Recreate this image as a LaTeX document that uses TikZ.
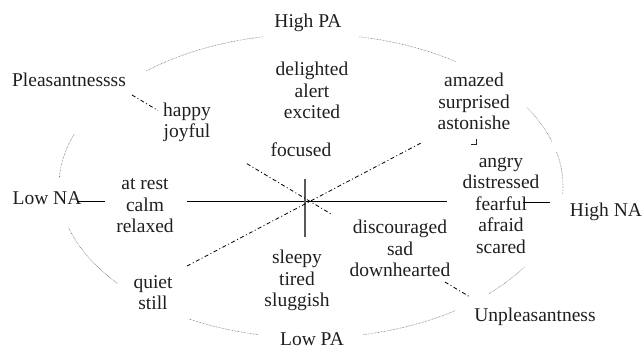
\documentclass[tikz,border=0pt]{standalone}
\usepackage{fontspec}
\setmainfont{Liberation Serif}
\usetikzlibrary{calc}
\begin{document}
\begin{tikzpicture}[x=1pt,y=-1pt,
  lbl/.style={inner sep=0pt,align=center,text=black!88,font=\fontsize{19.5}{21.5}\selectfont},
  axisline/.style={line width=0.9pt,black},
  vaxis/.style={line width=1.3pt,black!65},
  diag/.style={line width=0.8pt,black,dash pattern=on 4pt off 2.5pt on 1pt off 2.5pt},
  dotarc/.style={line width=0.55pt,black!60,dash pattern=on 0.6pt off 0.9pt}]
\useasboundingbox (0,0) rectangle (642,350);
% labels
\node[lbl] (highpa) at (308,23) {\strut High PA};
\node[lbl] (lowpa) at (312,341) {\strut Low PA};
\node[lbl] (lowna) at (47,200) {\strut Low NA};
\node[lbl] (highna) at (606,212) {\strut High NA};
\node[lbl] (pleas) at (69,82) {\strut Pleasantnessss};
\node[lbl] (unpleas) at (535,317) {\strut Unpleasantness};
\node[lbl] (deli) at (312,93) {\strut delighted\\\strut alert\\\strut excited};
\node[lbl] (happy) at (187,122.5) {\strut happy\\\strut joyful};
\node[lbl] (focused) at (301,152) {\strut focused};
\node[lbl] (amazed) at (474,104) {\strut amazed\\\strut surprised\\\strut astonishe};
\node[lbl] (angry) at (501,206) {\strut angry\\\strut distressed\\\strut fearful\\\strut afraid\\\strut scared};
\node[lbl] (atrest) at (145,207) {\strut at rest\\\strut calm\\\strut relaxed};
\node[lbl] (quiet) at (153,294.5) {\strut quiet\\\strut still};
\node[lbl] (sleepy) at (297,281) {\strut sleepy\\\strut tired\\\strut sluggish};
\node[lbl] (disc) at (400,251) {\strut discouraged\\\strut sad\\\strut downhearted};
% clipped remnant of the last letter of "astonished"
\draw[line width=1.1pt,black!85] (471,144.5) -- (477,144.5) (476.5,144.5) -- (476.5,139);
% axes
\coordinate (hna1) at (77,201);
\coordinate (hna2) at (105,201);
\coordinate (hm1) at (187,201);
\coordinate (hm2) at (447,201);
\coordinate (hr1) at (523,202);
\coordinate (hr2) at (550,202);
\coordinate (v1) at (305,179);
\coordinate (v2) at (305,237);
\draw[axisline] (hna1) -- (hna2);
\draw[axisline] (hm1) -- (hm2);
\draw[axisline] (hr1) -- (hr2);
\draw[vaxis] (v1) -- (v2);
% diagonals
\coordinate (d1a) at (132,95);
\coordinate (d1b) at (470,297);
\draw[diag] (d1a) -- ($(d1a)!0.077!(d1b)$);
\draw[diag] ($(d1a)!0.340!(d1b)$) -- ($(d1a)!0.592!(d1b)$);
\draw[diag] ($(d1a)!0.926!(d1b)$) -- (d1b);
\coordinate (d2a) at (187,266);
\coordinate (d2b) at (421,143);
\draw[diag] (d2a) -- (d2b);
% dotted ellipse arcs
\foreach \a/\b in {101/131, 55/79, 17/31, -3/13, -45/-32, -78/-55, -119/-102, -164/-140, 160/177}{
  \draw[dotarc] plot[domain=\a:\b, samples=25, smooth] ({311+252*cos(\x)},{186-152*sin(\x)});
}
\end{tikzpicture}
\end{document}
